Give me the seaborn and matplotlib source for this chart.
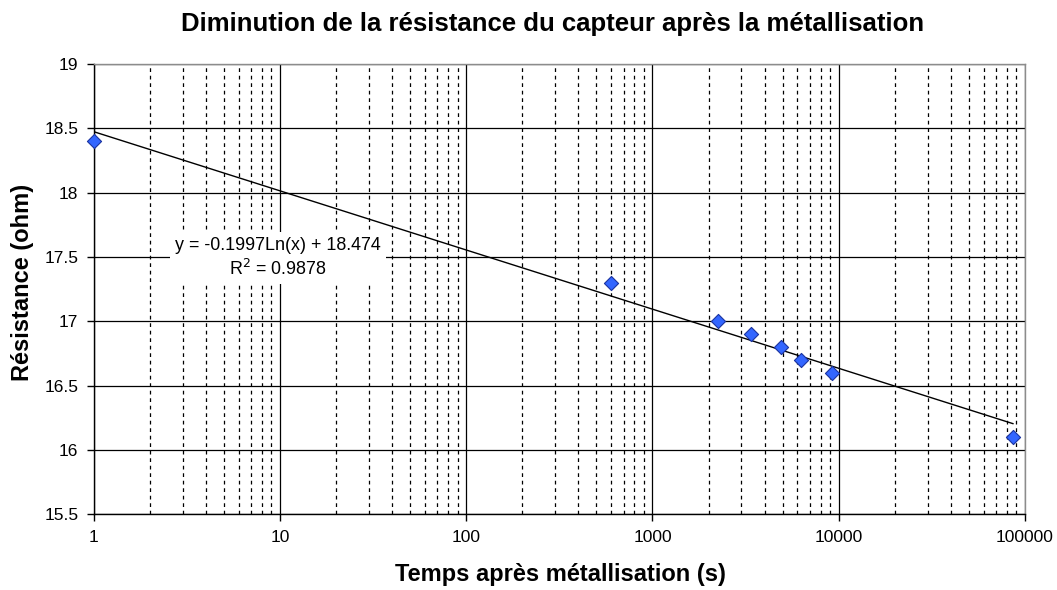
import numpy as np
import pandas as pd
import seaborn as sns
import matplotlib
matplotlib.use("Agg")
import matplotlib.pyplot as plt
from matplotlib.ticker import LogLocator, FixedLocator, FixedFormatter, NullFormatter

# Measurements: time after metallisation (s) and sensor resistance (ohm)
temps_s = [1, 600, 2260, 3400, 4920, 6280, 9170, 86400]
resistance_ohm = [18.4, 17.3, 17.0, 16.9, 16.8, 16.7, 16.6, 16.1]

# Logarithmic trend line reported on the chart: y = a*ln(x) + b
trend_a = -0.1997
trend_b = 18.474
trend_r2 = 0.9878

x_ticks = [1, 10, 100, 1000, 10000, 100000]
x_tick_labels = ["1", "10", "100", "1000", "10000", "100000"]
y_ticks = [15.5, 16, 16.5, 17, 17.5, 18, 18.5, 19]
y_tick_labels = ["15.5", "16", "16.5", "17", "17.5", "18", "18.5", "19"]

title = "Diminution de la résistance du capteur après la métallisation"
x_label = "Temps après métallisation (s)"
y_label = "Résistance (ohm)"

sns.set_style("white")
plt.rcParams["font.family"] = ["Liberation Sans", "DejaVu Sans"]
plt.rcParams["text.color"] = "black"

df = pd.DataFrame({"temps": temps_s, "resistance": resistance_ohm})

W, H = 1057, 590
fig = plt.figure(figsize=(W / 100, H / 100), dpi=100)
left, right, top, bottom = 93.7, 1025, 64, 514.3
ax = fig.add_axes([left / W, 1 - bottom / H, (right - left) / W, (bottom - top) / H])

ax.set_xscale("log")
ax.set_xlim(1, 100000)
ax.set_ylim(15.5, 19)

# grid: solid at decades and every 0.5 ohm, dashed at intermediate decades
ax.xaxis.set_major_locator(FixedLocator(x_ticks))
ax.xaxis.set_major_formatter(FixedFormatter(x_tick_labels))
ax.xaxis.set_minor_locator(LogLocator(base=10, subs=range(2, 10), numticks=20))
ax.xaxis.set_minor_formatter(NullFormatter())
ax.yaxis.set_major_locator(FixedLocator(y_ticks))
ax.yaxis.set_major_formatter(FixedFormatter(y_tick_labels))

ax.grid(which="major", axis="both", color="black", lw=0.9, ls="-", zorder=0)
ax.grid(which="minor", axis="x", color="black", lw=0.9, ls=(0, (3, 3)), zorder=0)
ax.set_axisbelow(True)

# trend line over the measured time range
x_fit = np.array([min(temps_s), max(temps_s)], dtype=float)
y_fit = trend_a * np.log(x_fit) + trend_b
sns.lineplot(x=x_fit, y=y_fit, ax=ax, color="black", lw=1.0, zorder=2)

sns.scatterplot(data=df, x="temps", y="resistance", ax=ax, marker="D", s=52,
                color="#3366ff", edgecolor="#1a33a0", linewidth=0.8, zorder=3, clip_on=False)

eq = f"y = {trend_a:.4f}Ln(x) + {trend_b:.3f}\nR$^2$ = {trend_r2:.4f}"
fig.text(278 / W, 1 - 258 / H, eq, ha="center", va="center",
         fontsize=12.9, linespacing=1.25, zorder=4,
         bbox=dict(boxstyle="square,pad=0.3", facecolor="white", edgecolor="none"))

for side in ("left", "bottom"):
    ax.spines[side].set_color("black")
    ax.spines[side].set_linewidth(1.0)
for side in ("top", "right"):
    ax.spines[side].set_color("#8c8c8c")
    ax.spines[side].set_linewidth(1.0)

ax.tick_params(axis="both", which="major", direction="out", length=5, width=1,
               color="black", labelsize=12.5, labelcolor="black", pad=6, bottom=True, left=True)
ax.tick_params(axis="x", which="minor", length=0)
ax.set_xlabel("")
ax.set_ylabel("")

fig.text(553 / W, 1 - 24 / H, title, ha="center", va="center", fontsize=18.5, fontweight="bold")
fig.text(560 / W, 1 - 575 / H, x_label, ha="center", va="center", fontsize=17, fontweight="bold")
fig.text(23 / W, 1 - 282 / H, y_label, ha="center", va="center", rotation=90,
         fontsize=17, fontweight="bold")

fig.savefig("out.png", dpi=100, facecolor="white")
